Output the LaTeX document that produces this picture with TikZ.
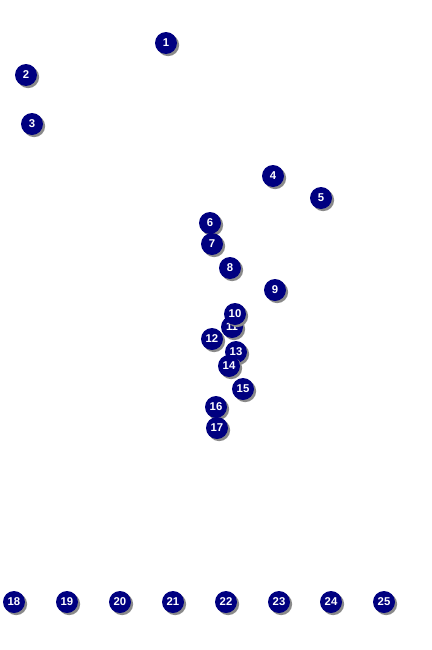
\documentclass[tikz,border=0pt]{standalone}
\usepackage{fontspec}
\setmainfont{Liberation Sans}
\definecolor{navy}{HTML}{000080}
\definecolor{shadowgray}{HTML}{8A8A8A}
\begin{document}
\begin{tikzpicture}[x=0.75pt,y=-0.75pt,
  marker/.style={circle,fill=navy,minimum size=16.5pt,inner sep=0pt,
    text=white,font=\fontsize{8.5}{9}\selectfont\bfseries,
    preaction={fill=shadowgray,transform canvas={xshift=1.6pt,yshift=-1.6pt}}}]
\useasboundingbox[fill=white] (0,0) rectangle (432,650);
\foreach \n/\x/\y in {1/166/43, 2/26/75, 3/32/124, 4/273/176, 5/321/198,
  6/210/223, 7/212/244, 8/230/268, 9/275/290, 11/232/327, 10/235/314,
  12/212/339, 13/236/352, 14/229/366, 15/243/389, 16/216/407, 17/217/428,
  18/14/602, 19/67/602, 20/120/602, 21/173/602, 22/226/602, 23/279/602,
  24/331/602, 25/384/602}
  \node[marker] (n\n) at (\x,\y) {\n};
\end{tikzpicture}
\end{document}
